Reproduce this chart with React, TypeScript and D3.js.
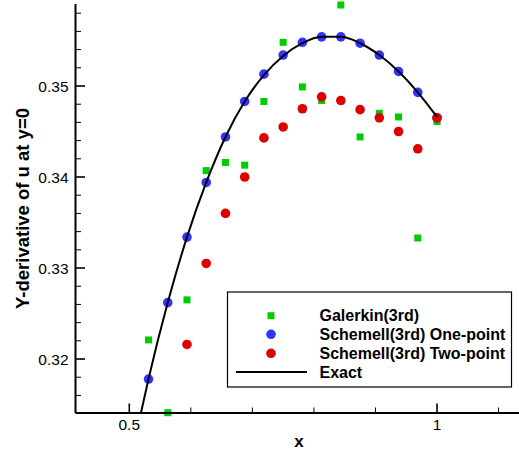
import React from "react";
import * as d3 from "d3";

// x positions k/32, k = 17..32
const xs = [0.53125, 0.5625, 0.59375, 0.625, 0.65625, 0.6875, 0.71875, 0.75, 0.78125, 0.8125, 0.84375, 0.875, 0.90625, 0.9375, 0.96875, 1.0];

const galerkin = [0.3221, 0.3141, 0.3265, 0.3407, 0.3416, 0.3413, 0.3483, 0.3548, 0.3499, 0.3484, 0.3589, 0.3444, 0.347, 0.3466, 0.3333, 0.3461];
const onePoint = [0.3178, 0.3262, 0.3334, 0.3394, 0.3444, 0.3483, 0.3513, 0.3534, 0.3548, 0.3554, 0.3554, 0.3547, 0.3534, 0.3516, 0.3493, 0.3465];
// two-point starts at k = 19
const twoPointX = [0.59375, 0.625, 0.65625, 0.6875, 0.71875, 0.75, 0.78125, 0.8125, 0.84375, 0.875, 0.90625, 0.9375, 0.96875, 1.0];
const twoPoint = [0.3216, 0.3305, 0.336, 0.34, 0.3443, 0.3455, 0.3475, 0.3488, 0.3484, 0.3474, 0.3465, 0.345, 0.3431, 0.3465];

const exactX = [0.519, 0.53125, 0.5625, 0.59375, 0.625, 0.65625, 0.6875, 0.71875, 0.75, 0.78125, 0.8125, 0.84375, 0.875, 0.90625, 0.9375, 0.96875, 1.0];
const exactY = [0.3141, 0.3178, 0.3262, 0.3334, 0.3394, 0.3444, 0.3483, 0.3512, 0.3533, 0.3547, 0.3554, 0.3554, 0.3547, 0.3534, 0.3516, 0.3493, 0.3466];

const xMajor = [0.5, 1.0];
const xMinor = [0.6, 0.7, 0.8, 0.9, 1.1];
const yMajor = [0.32, 0.33, 0.34, 0.35];
const yMinor = [0.316, 0.318, 0.322, 0.324, 0.326, 0.328, 0.332, 0.334, 0.336, 0.338, 0.342, 0.344, 0.346, 0.348, 0.352, 0.354, 0.356, 0.358];

const legendLabels = ["Galerkin(3rd)", "Schemell(3rd) One-point", "Schemell(3rd) Two-point", "Exact"];

const GREEN = "#00cc00";
const BLUE = "#3333ff";
const RED = "#dd0000";
const FONT = "'Liberation Sans', Arial, sans-serif";

export default function App() {
  const x = d3.scaleLinear().domain([0.4126, 1.1332]).range([75.5, 519]);
  const y = d3.scaleLinear().domain([0.31407, 0.35901]).range([413, 4]);
  const line = d3
    .line<number>()
    .x((_, i) => x(exactX[i]))
    .y((d) => y(d))
    .curve(d3.curveMonotoneX);

  const sq = 7;
  const r = 4.8;
  const legY = [315.7, 334.3, 353.3, 372];

  return (
    <svg
      width={519}
      height={453}
      style={{ position: "absolute", left: 0, top: 0, background: "#fff" }}
      fontFamily={FONT}
    >
      <rect x={0} y={0} width={519} height={453} fill="#fff" />
      {/* data */}
      {galerkin.map((v, i) => (
        <rect key={"g" + i} x={x(xs[i]) - sq / 2} y={y(v) - sq / 2} width={sq} height={sq} fill={GREEN} />
      ))}
      {onePoint.map((v, i) => (
        <circle key={"b" + i} cx={x(xs[i])} cy={y(v)} r={r} fill={BLUE} />
      ))}
      {twoPoint.map((v, i) => (
        <circle key={"r" + i} cx={x(twoPointX[i])} cy={y(v)} r={r} fill={RED} />
      ))}
      <path d={line(exactY) || ""} fill="none" stroke="#000" strokeWidth={2} />
      {/* axes */}
      <line x1={x.range()[0]} x2={x.range()[0]} y1={y.range()[1]} y2={y.range()[0]} stroke="#000" strokeWidth={2} />
      <line x1={x.range()[0]} x2={x.range()[1]} y1={y.range()[0]} y2={y.range()[0]} stroke="#000" strokeWidth={2} />
      {yMajor.map((v) => (
        <g key={"ym" + v}>
          <line x1={75.5} x2={85} y1={y(v)} y2={y(v)} stroke="#000" strokeWidth={1.6} />
          <text x={68.5} y={y(v)} dy="0.36em" textAnchor="end" fontSize={15.5}>
            {v.toFixed(2)}
          </text>
        </g>
      ))}
      {yMinor.map((v) => (
        <line key={"yn" + v} x1={75.5} x2={81} y1={y(v)} y2={y(v)} stroke="#000" strokeWidth={1} />
      ))}
      {xMajor.map((v) => (
        <g key={"xm" + v}>
          <line x1={x(v)} x2={x(v)} y1={413} y2={403.5} stroke="#000" strokeWidth={1.6} />
          <text x={x(v)} y={430} textAnchor="middle" fontSize={15.5}>
            {v === 1 ? "1" : String(v)}
          </text>
        </g>
      ))}
      {xMinor.map((v) => (
        <line key={"xn" + v} x1={x(v)} x2={x(v)} y1={413} y2={407.5} stroke="#000" strokeWidth={1} />
      ))}
      {/* axis titles */}
      <text x={299} y={447} textAnchor="middle" fontSize={17} fontWeight="bold">
        x
      </text>
      <text
        transform="translate(28.5,208.5) rotate(-90)"
        textAnchor="middle"
        fontSize={18.5}
        fontWeight="bold"
      >
        Y-derivative of u at y=0
      </text>
      {/* legend */}
      <rect x={227.5} y={292} width={284} height={95} fill="#fff" stroke="#000" strokeWidth={1.2} />
      <rect x={271 - sq / 2} y={legY[0] - sq / 2} width={sq} height={sq} fill={GREEN} />
      <circle cx={271} cy={legY[1]} r={r} fill={BLUE} />
      <circle cx={271} cy={legY[2]} r={r} fill={RED} />
      <line x1={236} x2={307} y1={legY[3]} y2={legY[3]} stroke="#000" strokeWidth={2} />
      {legendLabels.map((t, i) => (
        <text key={t} x={319.5} y={legY[i]} dy="0.36em" fontSize={16} fontWeight="bold">
          {t}
        </text>
      ))}
    </svg>
  );
}
